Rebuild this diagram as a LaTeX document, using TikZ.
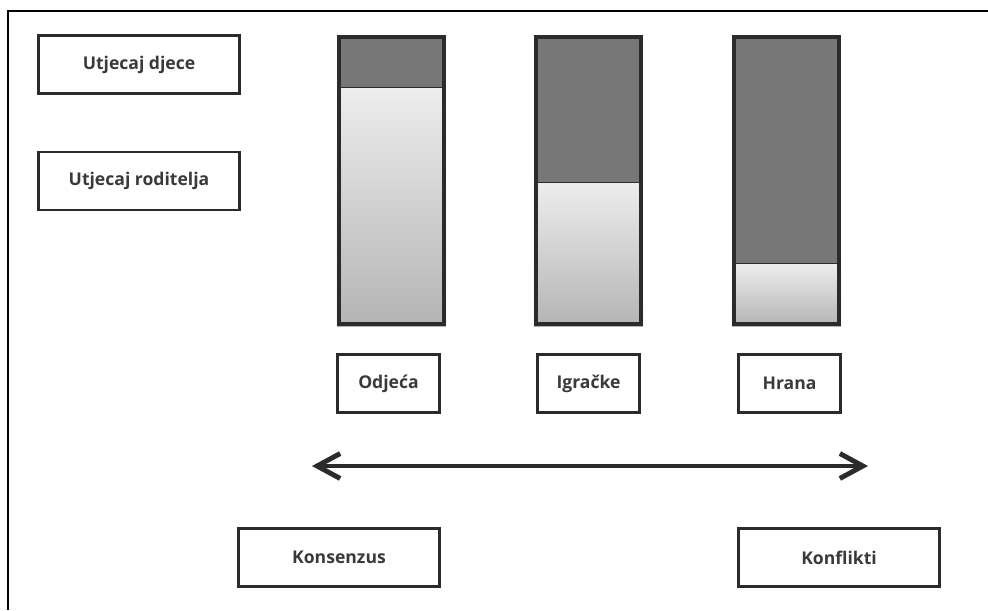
\documentclass[tikz,border=0pt]{standalone}
\usepackage{fontspec}
\setmainfont{Open Sans}
\usetikzlibrary{arrows.meta,positioning,backgrounds}

\definecolor{barDark}{HTML}{777777}
\definecolor{barTop}{HTML}{EDEDED}
\definecolor{barBot}{HTML}{B4B4B4}
\definecolor{edge}{HTML}{2B2B2B}
\definecolor{ink}{HTML}{3A3A3A}

\begin{document}
\begin{tikzpicture}[
            x = 0.02cm, y = -0.02cm, % one unit = one pixel
            > = {Straight Barb[length=4.6mm, width=5mm]}, % arrow head style
            semithick % line style
        ]

        \tikzstyle{box}=[
            draw = edge,
            line width = 1.4pt,
            fill = white,
            text = ink,
            font = \bfseries\normalsize,
            minimum height = 1.16cm,
            inner sep = 0pt
        ]
        \tikzstyle{bar}=[
            draw = edge,
            line width = 2.3pt,
            minimum width = 2.1cm,
            minimum height = 5.74cm,
            inner sep = 0pt
        ]

        \useasboundingbox (0,0) rectangle (988,610);
        \draw[line width=1.3pt] (988,11) -- (8,11) -- (8,610);

        % legend
        \node[box, minimum width = 4.02cm] (djeca) at (139,64.5) {Utjecaj djece};
        \node[box, minimum width = 4.02cm] (roditelji) at (139,181) {Utjecaj roditelja};

        % bars
        \node[bar] (b1) at (391.5,180.5) {};
        \node[bar] (b2) at (588.5,180.5) {};
        \node[bar] (b3) at (786.5,180.5) {};

        \coordinate (s1) at (391.5,87);
        \coordinate (s2) at (588.5,182);
        \coordinate (s3) at (786.5,263);

        \begin{scope}[on background layer]
            \fill[barDark] (b1.north west) rectangle (b1.east |- s1);
            \shade[top color=barTop, bottom color=barBot] (b1.west |- s1) rectangle (b1.south east);
            \fill[barDark] (b2.north west) rectangle (b2.east |- s2);
            \shade[top color=barTop, bottom color=barBot] (b2.west |- s2) rectangle (b2.south east);
            \fill[barDark] (b3.north west) rectangle (b3.east |- s3);
            \shade[top color=barTop, bottom color=barBot] (b3.west |- s3) rectangle (b3.south east);
        \end{scope}
        \draw[edge, thin] (b1.west |- s1) -- (b1.east |- s1);
        \draw[edge, thin] (b2.west |- s2) -- (b2.east |- s2);
        \draw[edge, thin] (b3.west |- s3) -- (b3.east |- s3);

        % categories
        \node[box, minimum width = 2.04cm] (odjeca) at (388.5,383.5) {Odjeća};
        \node[box, minimum width = 2.04cm] (igracke) at (588.5,383.5) {Igračke};
        \node[box, minimum width = 2.04cm] (hrana) at (789.5,383.5) {Hrana};

        % scale
        \coordinate (lft) at (312,466);
        \coordinate (rgt) at (868,466);
        \draw[<->, edge, line width=2.8pt] (lft) -- (rgt);

        \node[box, minimum width = 4.02cm] (konsenzus) at (339,557.5) {Konsenzus};
        \node[box, minimum width = 4.02cm] (konflikti) at (839,557.5) {Konflikti};

    \end{tikzpicture}
\end{document}
